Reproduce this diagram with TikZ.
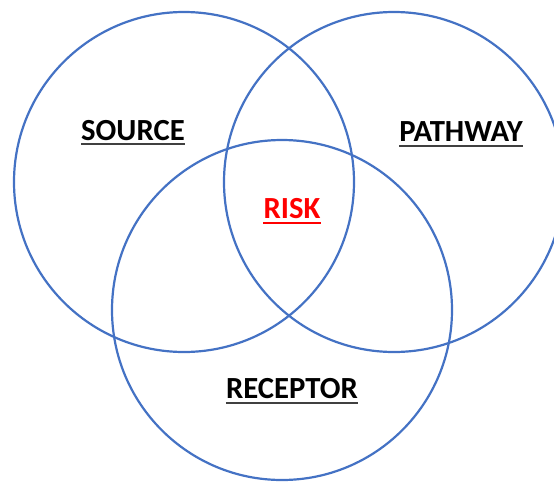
\documentclass[tikz,border=0pt]{standalone}
\usepackage{fontspec}
\setmainfont{Carlito}
\definecolor{ringblue}{RGB}{68,114,196}
\definecolor{riskred}{RGB}{255,0,0}
\tikzset{
  ring/.style={line width=2.2pt, color=ringblue},
  lbl/.style={anchor=base, inner sep=0pt, font=\fontsize{30.7}{32}\selectfont\bfseries},
  uline/.style={line width=1.8pt}
}

\begin{document}
\begin{tikzpicture}[x=1pt, y=-1pt]
			%%%%% START %%%%%
			\useasboundingbox (0, 0) rectangle (554, 485);
			\clip (0, 0) rectangle (554, 485);
			
			\draw[ring] (184, 182) circle (170);
			\draw[ring] (394, 182) circle (170);
			\draw[ring] (282, 310) circle (170);
			
			\node[lbl] (source) at (133, 140) {SOURCE};
			\node[lbl] (pathway) at (461, 141) {PATHWAY};
			\node[lbl, color=riskred] (risk) at (292, 218) {RISK};
			\node[lbl] (receptor) at (292, 398) {RECEPTOR};
			
			\draw[uline, color=black!75] ([yshift=-4pt]source.base west) -- ([yshift=-4pt]source.base east);
			\draw[uline, color=black!75] ([yshift=-5pt]pathway.base west) -- ([yshift=-5pt]pathway.base east);
			\draw[uline, color=riskred] ([yshift=-5pt]risk.base west) -- ([yshift=-5pt]risk.base east);
			\draw[uline, color=black!75] ([yshift=-5pt]receptor.base west) -- ([yshift=-5pt]receptor.base east);
			
			%%%%% END %%%%%
\end{tikzpicture}
\end{document}
